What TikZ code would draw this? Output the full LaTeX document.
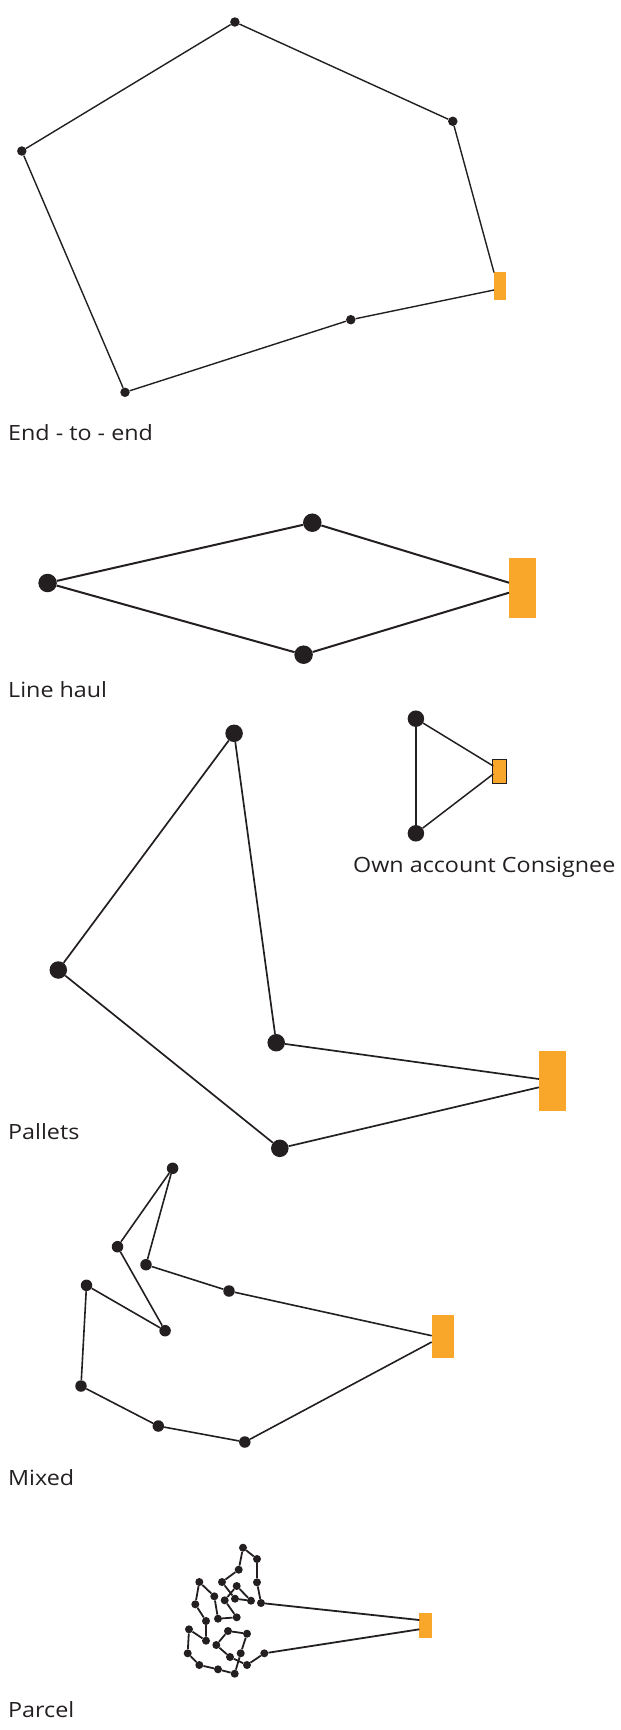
\documentclass[tikz,border=0pt]{standalone}
\usepackage{fontspec}
\usepackage{graphicx}
\setmainfont{Open Sans}
\definecolor{dotc}{HTML}{231F20}
\definecolor{orng}{HTML}{F9A72B}
\newcommand{\widetxt}[1]{\scalebox{1.11}[1]{#1}}
\tikzset{
  dot/.style={circle,fill=dotc,inner sep=0pt,minimum size=#1},
  dot/.default=9pt,
  box/.style={rectangle,fill=orng,inner sep=0pt},
  lbl/.style={anchor=base west,inner sep=0pt,text=dotc,font=\fontsize{21}{24}\selectfont},
  ln/.style={draw=dotc,line width=#1},
  ln/.default=1.2pt
}
\begin{document}
\begin{tikzpicture}[x=1pt,y=-1pt]
\useasboundingbox (0,0) rectangle (621,1730);
% ---------- End-to-end ----------
\node[box,minimum width=12pt,minimum height=27.4pt] (o1) at (500,286) {};
\node[dot=9.5pt] (a1) at (234.9,22) {};
\node[dot=9.5pt] (a2) at (452.8,121.3) {};
\node[dot=9.5pt] (a3) at (21.8,151) {};
\node[dot=9.5pt] (a4) at (125,392.3) {};
\node[dot=9.5pt] (a5) at (350.8,319.7) {};
\coordinate (o1a) at (494,272.5);
\coordinate (o1b) at (494,290);
\draw[ln=1.4pt] (a3) -- (a1) -- (a2) -- (o1a);
\draw[ln=1.4pt] (o1b) -- (a5) -- (a4) -- (a3);
\node[lbl] (t1) at (8,440) {\widetxt{End - to - end}};
% ---------- Line haul ----------
\node[box,minimum width=27pt,minimum height=59.7pt] (o2) at (522.5,587.9) {};
\node[dot=18.5pt] (b1) at (47.6,583) {};
\node[dot=18.5pt] (b2) at (312.3,522.7) {};
\node[dot=18.5pt] (b3) at (303.6,654.7) {};
\coordinate (o2a) at (509,582.7);
\coordinate (o2b) at (509,592.7);
\draw[ln=2pt] (b1) -- (b2) -- (o2a);
\draw[ln=2pt] (b1) -- (b3) -- (o2b);
\node[lbl] (t2) at (8,697.3) {\widetxt{Line haul}};
% ---------- Own account ----------
\node[box,draw=dotc,line width=1pt,minimum width=13.8pt,minimum height=23.7pt] (o3) at (499.8,771.2) {};
\node[dot=16.5pt] (d1) at (415.9,718.7) {};
\node[dot=16.5pt] (d2) at (415.9,833.3) {};
\coordinate (o3a) at (493.3,766);
\coordinate (o3b) at (493.3,774);
\draw[ln=1.5pt] (d1) -- (d2);
\draw[ln=1.5pt] (d1) -- (o3a);
\draw[ln=1.5pt] (d2) -- (o3b);
\node[lbl] (t3) at (353,872.3) {\widetxt{Own account Consignee}};
% ---------- Pallets ----------
\node[box,minimum width=27pt,minimum height=59.7pt] (o4) at (552.4,1080.9) {};
\node[dot=17.5pt] (c1) at (234.1,733.3) {};
\node[dot=17.5pt] (c2) at (58.3,970) {};
\node[dot=17.5pt] (c3) at (276.2,1042.7) {};
\node[dot=17.5pt] (c4) at (279.8,1148.3) {};
\coordinate (o4a) at (538.9,1079);
\coordinate (o4b) at (538.9,1087.3);
\draw[ln=1.7pt] (c2) -- (c1) -- (c3) -- (o4a);
\draw[ln=1.7pt] (c2) -- (c4) -- (o4b);
\node[lbl] (t4) at (8,1139.3) {\widetxt{Pallets}};
% ---------- Mixed ----------
\node[box,minimum width=21.9pt,minimum height=42.7pt] (o5) at (442.6,1336.3) {};
\node[dot=11.5pt] (e1) at (172.6,1168.3) {};
\node[dot=11.5pt] (e2) at (117.5,1246.7) {};
\node[dot=11.5pt] (e3) at (146,1264.7) {};
\node[dot=11.5pt] (e4) at (229,1291) {};
\node[dot=11.5pt] (e5) at (86.5,1285.3) {};
\node[dot=11.5pt] (e6) at (165.1,1330.7) {};
\node[dot=11.5pt] (e7) at (81,1386) {};
\node[dot=11.5pt] (e8) at (158.3,1426) {};
\node[dot=11.5pt] (e9) at (244.8,1442) {};
\coordinate (o5a) at (431.7,1335.7);
\coordinate (o5b) at (431.7,1342);
\draw[ln=1.6pt] (o5a) -- (e4) -- (e3) -- (e1) -- (e2) -- (e6) -- (e5) -- (e7) -- (e8) -- (e9) -- (o5b);
\node[lbl] (t5) at (8,1485) {\widetxt{Mixed}};
% ---------- Parcel ----------
\node[box,minimum width=12.7pt,minimum height=24.4pt] (o6) at (425.7,1625.5) {};
\foreach \n/\x/\y in {
 1/243/1547.7, 2/257/1559, 3/238.7/1569.7, 4/257/1582.3, 5/222/1582,
 6/199.3/1582, 7/214.3/1596.3, 8/236.7/1586, 9/224.7/1600.3, 10/235/1598.7,
 11/251/1600.7, 12/261/1603, 13/195.3/1604.3, 14/206/1621, 15/218/1618.7,
 16/236.7/1617.3, 17/189/1629.3, 18/228/1631, 19/247/1633.7, 20/206/1640.7,
 21/216.3/1645, 22/187.7/1653.3, 23/230/1657, 24/240.7/1653.3, 25/199.3/1665,
 26/218/1669.3, 27/234.7/1673.7, 28/247/1665, 29/264.3/1653.3}
 { \node[dot=8pt] (p\n) at (\x,\y) {}; }
\coordinate (o6a) at (419.3,1620);
\coordinate (o6b) at (419.3,1629.3);
\draw[ln=1.8pt] (o6a) -- (p12) -- (p4) -- (p2) -- (p1) -- (p3) -- (p5) -- (p10) -- (p11) -- (p8) -- (p9) -- (p16) -- (p15) -- (p7) -- (p6) -- (p13) -- (p14) -- (p20) -- (p17) -- (p22) -- (p25) -- (p26) -- (p27) -- (p24) -- (p19) -- (p18) -- (p21) -- (p23) -- (p28) -- (p29) -- (o6b);
\node[lbl] (t6) at (8,1717.3) {\widetxt{Parcel}};
\end{tikzpicture}
\end{document}
